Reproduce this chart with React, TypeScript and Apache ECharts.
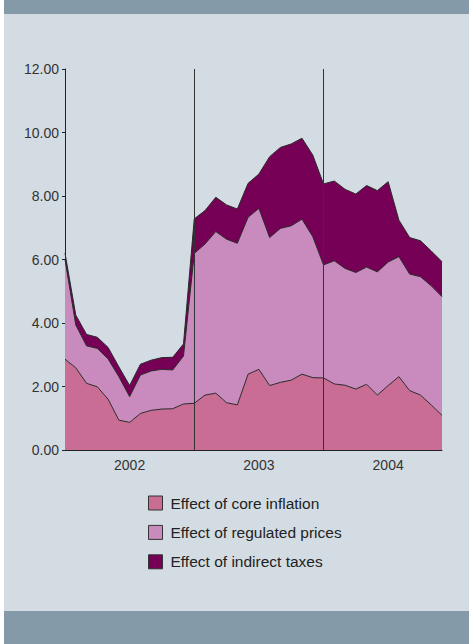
import React, { useEffect, useRef } from "react";
import * as echarts from "echarts";

const years = ["2002", "2003", "2004"];
const months = ["01", "02", "03", "04", "05", "06", "07", "08", "09", "10", "11", "12"];
const categories: string[] = [];
years.forEach((y) => months.forEach((m) => categories.push(`${y}-${m}`)));

const seriesNames = [
  "Effect of core inflation",
  "Effect of regulated prices",
  "Effect of indirect taxes",
];

const coreInflation = [
  2.86, 2.59, 2.1, 1.99, 1.6, 0.94, 0.87, 1.15, 1.25, 1.29, 1.3, 1.45,
  1.47, 1.73, 1.79, 1.49, 1.42, 2.39, 2.54, 2.03, 2.13, 2.2, 2.39, 2.28,
  2.27, 2.08, 2.04, 1.92, 2.07, 1.73, 2.03, 2.31, 1.87, 1.73, 1.42, 1.09,
];
const regulatedPrices = [
  3.14, 1.35, 1.18, 1.21, 1.27, 1.37, 0.81, 1.21, 1.24, 1.25, 1.22, 1.51,
  4.72, 4.76, 5.09, 5.15, 5.09, 4.94, 5.07, 4.66, 4.85, 4.86, 4.88, 4.44,
  3.56, 3.88, 3.68, 3.67, 3.69, 3.88, 3.89, 3.78, 3.67, 3.73, 3.75, 3.74,
];
const indirectTaxes = [
  0.2, 0.31, 0.36, 0.35, 0.36, 0.31, 0.35, 0.34, 0.34, 0.37, 0.4, 0.38,
  1.09, 1.05, 1.08, 1.08, 1.08, 1.07, 1.08, 2.55, 2.55, 2.58, 2.55, 2.57,
  2.55, 2.51, 2.49, 2.47, 2.57, 2.56, 2.53, 1.15, 1.15, 1.13, 1.1, 1.1,
];

const yearLabelIndex: Record<number, string> = { 6: "2002", 18: "2003", 30: "2004" };
const yearBoundaries = [categories[12], categories[24]];

const colors = ["#c96d95", "#c98bbe", "#760056"];
const FONT = "Liberation Sans, Arial, sans-serif";

export default function App() {
  const ref = useRef<HTMLDivElement>(null);

  useEffect(() => {
    if (!ref.current) return;
    const chart = echarts.init(ref.current, undefined, { renderer: "svg" });
    const values = [coreInflation, regulatedPrices, indirectTaxes];
    const series: any[] = seriesNames.map((name, k) => ({
      name,
      type: "line",
      stack: "total",
      data: values[k],
      symbol: "none",
      smooth: false,
      itemStyle: { color: colors[k], borderColor: "#333", borderWidth: 1 },
      lineStyle: { color: "#2a2a2a", width: 1 },
      areaStyle: { color: colors[k], opacity: 1 },
      z: 2,
    }));
    series[2].markLine = {
      silent: true,
      symbol: ["none", "none"],
      label: { show: false },
      lineStyle: { color: "#333", width: 1, type: "solid" },
      data: yearBoundaries.map((c) => ({ xAxis: c })),
    };
    chart.setOption({
      animation: false,
      backgroundColor: "transparent",
      textStyle: { fontFamily: FONT },
      grid: { left: 65, right: 27, top: 69, bottom: 194 },
      xAxis: {
        type: "category",
        boundaryGap: false,
        data: categories,
        axisLine: { show: true, lineStyle: { color: "#222", width: 1 } },
        axisTick: { show: false },
        axisLabel: {
          interval: 0,
          margin: 8,
          color: "#333",
          fontSize: 14,
          fontFamily: FONT,
          formatter: (_v: string, i: number) => yearLabelIndex[i] ?? "",
        },
        splitLine: { show: false },
      },
      yAxis: {
        type: "value",
        min: 0,
        max: 12,
        interval: 2,
        axisLine: { show: true, lineStyle: { color: "#222", width: 1 } },
        axisTick: { show: true, length: 3, lineStyle: { color: "#222" } },
        axisLabel: {
          margin: 6,
          color: "#333",
          fontSize: 14,
          fontFamily: FONT,
          formatter: (v: number) => v.toFixed(2),
        },
        splitLine: { show: false },
      },
      legend: {
        orient: "vertical",
        left: 148,
        top: 495,
        padding: 0,
        itemWidth: 14,
        itemHeight: 14,
        itemGap: 13.4,
        icon: "rect",
        itemStyle: { borderColor: "#333", borderWidth: 1 },
        textStyle: {
          fontSize: 15.5,
          color: "#222",
          fontFamily: FONT,
          padding: [0, 0, 0, 3],
        },
        data: seriesNames,
      },
      series,
    });
    return () => chart.dispose();
  }, []);

  return (
    <div style={{ position: "fixed", left: 0, top: 0, width: 469, height: 644, background: "#fff" }}>
      <div style={{ position: "absolute", left: 4, top: 0, width: 465, height: 644, background: "#d4dce3" }} />
      <div style={{ position: "absolute", left: 4, top: 0, width: 465, height: 14, background: "#849aa8" }} />
      <div style={{ position: "absolute", left: 4, top: 611, width: 465, height: 33, background: "#849aa8" }} />
      <div ref={ref} style={{ position: "absolute", left: 0, top: 0, width: 469, height: 644 }} />
    </div>
  );
}
